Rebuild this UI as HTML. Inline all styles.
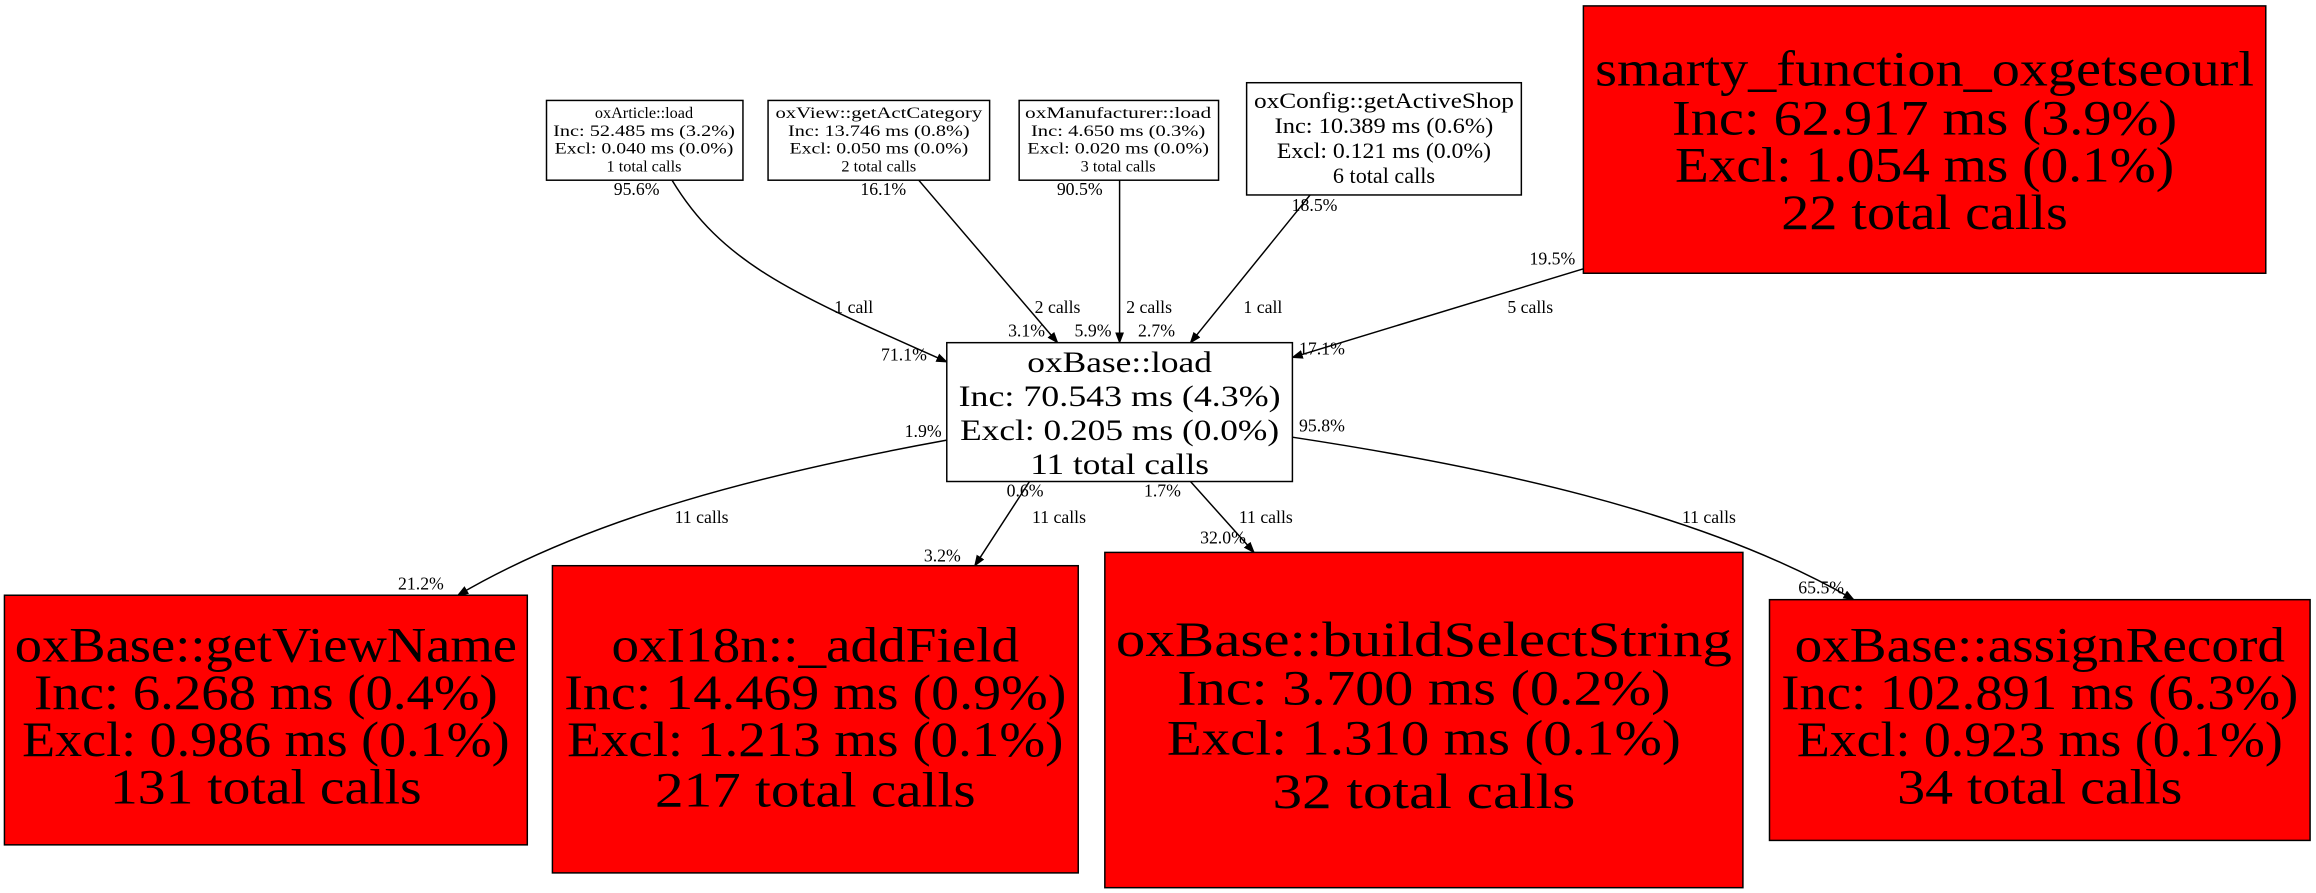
<!DOCTYPE html>
<html><head><meta charset="utf-8"><style>
html,body{margin:0;padding:0;background:#fff;}
svg{display:block;}
text{font-family:"Liberation Serif",serif;fill:#000;}
</style></head><body>
<svg width="2316" height="893" viewBox="0 0 1568 604.6" preserveAspectRatio="none" xmlns="http://www.w3.org/2000/svg">
<defs><marker id="a" markerWidth="8" markerHeight="8" refX="7" refY="3" orient="auto" markerUnits="userSpaceOnUse"><path d="M0,0 L8,3 L0,6 z" fill="#000"/></marker></defs>
<g fill="none" stroke="#000" stroke-width="1">
<path d="M455,122 C490,180 540,200 641,245" marker-end="url(#a)"/>
<path d="M622,122 L716,232" marker-end="url(#a)"/>
<path d="M758,122 L758,232" marker-end="url(#a)"/>
<path d="M887,132 L806,232" marker-end="url(#a)"/>
<path d="M1072,182 L875,242" marker-end="url(#a)"/>
<path d="M641,298 C520,320 400,350 310,403" marker-end="url(#a)"/>
<path d="M697,326 L660,383" marker-end="url(#a)"/>
<path d="M806,326 L849,374" marker-end="url(#a)"/>
<path d="M875,296 C1000,315 1150,345 1255,406" marker-end="url(#a)"/>
</g>
<g stroke="#000" stroke-width="1">
<rect x="370" y="68" width="133" height="54" fill="#fff"/>
<rect x="520" y="68" width="150" height="54" fill="#fff"/>
<rect x="690" y="68" width="135" height="54" fill="#fff"/>
<rect x="844" y="56" width="186" height="76" fill="#fff"/>
<rect x="1072" y="4" width="462" height="181" fill="#f00"/>
<rect x="641" y="232" width="234" height="94" fill="#fff"/>
<rect x="3" y="403" width="354" height="169" fill="#f00"/>
<rect x="374" y="383" width="356" height="208" fill="#f00"/>
<rect x="748" y="374" width="432" height="227" fill="#f00"/>
<rect x="1198" y="406" width="366" height="163" fill="#f00"/>
</g>
<g text-anchor="middle" font-size="11">
<text x="436" y="80">oxArticle::load</text>
<text x="436" y="92" textLength="123" lengthAdjust="spacingAndGlyphs">Inc: 52.485 ms (3.2%)</text>
<text x="436" y="104" textLength="121" lengthAdjust="spacingAndGlyphs">Excl: 0.040 ms (0.0%)</text>
<text x="436" y="116">1 total calls</text>
<text x="595" y="80" textLength="140" lengthAdjust="spacingAndGlyphs">oxView::getActCategory</text>
<text x="595" y="92" textLength="123" lengthAdjust="spacingAndGlyphs">Inc: 13.746 ms (0.8%)</text>
<text x="595" y="104" textLength="121" lengthAdjust="spacingAndGlyphs">Excl: 0.050 ms (0.0%)</text>
<text x="595" y="116">2 total calls</text>
<text x="757" y="80" textLength="126" lengthAdjust="spacingAndGlyphs">oxManufacturer::load</text>
<text x="757" y="92" textLength="118" lengthAdjust="spacingAndGlyphs">Inc: 4.650 ms (0.3%)</text>
<text x="757" y="104" textLength="123" lengthAdjust="spacingAndGlyphs">Excl: 0.020 ms (0.0%)</text>
<text x="757" y="116">3 total calls</text>
</g>
<g text-anchor="middle" font-size="15">
<text x="937" y="73" textLength="176" lengthAdjust="spacingAndGlyphs">oxConfig::getActiveShop</text>
<text x="937" y="90" textLength="148" lengthAdjust="spacingAndGlyphs">Inc: 10.389 ms (0.6%)</text>
<text x="937" y="107" textLength="145" lengthAdjust="spacingAndGlyphs">Excl: 0.121 ms (0.0%)</text>
<text x="937" y="124">6 total calls</text>
</g>
<g text-anchor="middle" font-size="20">
<text x="758" y="252" textLength="125" lengthAdjust="spacingAndGlyphs">oxBase::load</text>
<text x="758" y="275" textLength="218" lengthAdjust="spacingAndGlyphs">Inc: 70.543 ms (4.3%)</text>
<text x="758" y="298" textLength="216" lengthAdjust="spacingAndGlyphs">Excl: 0.205 ms (0.0%)</text>
<text x="758" y="321" textLength="121" lengthAdjust="spacingAndGlyphs">11 total calls</text>
</g>
<g text-anchor="middle" font-size="34">
<text x="1303" y="58" textLength="446" lengthAdjust="spacingAndGlyphs">smarty_function_oxgetseourl</text>
<text x="1303" y="91" textLength="342" lengthAdjust="spacingAndGlyphs">Inc: 62.917 ms (3.9%)</text>
<text x="1303" y="123" textLength="338" lengthAdjust="spacingAndGlyphs">Excl: 1.054 ms (0.1%)</text>
<text x="1303" y="155" textLength="194" lengthAdjust="spacingAndGlyphs">22 total calls</text>

<text x="180" y="448" textLength="340" lengthAdjust="spacingAndGlyphs">oxBase::getViewName</text>
<text x="180" y="480" textLength="314" lengthAdjust="spacingAndGlyphs">Inc: 6.268 ms (0.4%)</text>
<text x="180" y="512" textLength="330" lengthAdjust="spacingAndGlyphs">Excl: 0.986 ms (0.1%)</text>
<text x="180" y="544" textLength="211" lengthAdjust="spacingAndGlyphs">131 total calls</text>

<text x="552" y="448" textLength="276" lengthAdjust="spacingAndGlyphs">oxI18n::_addField</text>
<text x="552" y="480" textLength="340" lengthAdjust="spacingAndGlyphs">Inc: 14.469 ms (0.9%)</text>
<text x="552" y="512" textLength="336" lengthAdjust="spacingAndGlyphs">Excl: 1.213 ms (0.1%)</text>
<text x="552" y="546" textLength="217" lengthAdjust="spacingAndGlyphs">217 total calls</text>

<text x="964" y="444" textLength="417" lengthAdjust="spacingAndGlyphs">oxBase::buildSelectString</text>
<text x="964" y="477" textLength="334" lengthAdjust="spacingAndGlyphs">Inc: 3.700 ms (0.2%)</text>
<text x="964" y="511" textLength="348" lengthAdjust="spacingAndGlyphs">Excl: 1.310 ms (0.1%)</text>
<text x="964" y="547" textLength="205" lengthAdjust="spacingAndGlyphs">32 total calls</text>

<text x="1381" y="448" textLength="332" lengthAdjust="spacingAndGlyphs">oxBase::assignRecord</text>
<text x="1381" y="480" textLength="350" lengthAdjust="spacingAndGlyphs">Inc: 102.891 ms (6.3%)</text>
<text x="1381" y="512" textLength="329" lengthAdjust="spacingAndGlyphs">Excl: 0.923 ms (0.1%)</text>
<text x="1381" y="544" textLength="193" lengthAdjust="spacingAndGlyphs">34 total calls</text>
</g>
<g text-anchor="middle" font-size="12">
<text x="578" y="212">1 call</text>
<text x="612" y="244">71.1%</text>
<text x="431" y="132">95.6%</text>
<text x="716" y="212">2 calls</text>
<text x="695" y="228">3.1%</text>
<text x="598" y="132">16.1%</text>
<text x="778" y="212">2 calls</text>
<text x="740" y="228">5.9%</text>
<text x="731" y="132">90.5%</text>
<text x="855" y="212">1 call</text>
<text x="783" y="228">2.7%</text>
<text x="890" y="143">18.5%</text>
<text x="1036" y="212">5 calls</text>
<text x="1051" y="179">19.5%</text>
<text x="895" y="240">17.1%</text>
<text x="475" y="354">11 calls</text>
<text x="625" y="296">1.9%</text>
<text x="285" y="399">21.2%</text>
<text x="717" y="354">11 calls</text>
<text x="694" y="336">0.6%</text>
<text x="638" y="380">3.2%</text>
<text x="857" y="354">11 calls</text>
<text x="787" y="336">1.7%</text>
<text x="828" y="368">32.0%</text>
<text x="1157" y="354">11 calls</text>
<text x="895" y="292">95.8%</text>
<text x="1233" y="402">65.5%</text>
</g>
</svg>
</body></html>
